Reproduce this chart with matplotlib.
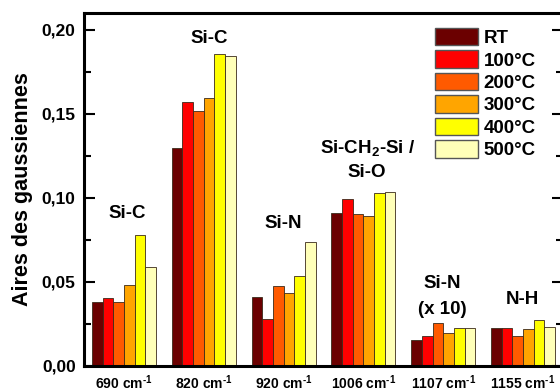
import matplotlib
matplotlib.use("Agg")
import matplotlib.pyplot as plt
import numpy as np
from matplotlib.ticker import MultipleLocator, FuncFormatter

plt.rcParams['font.family'] = 'Liberation Sans'
plt.rcParams['font.weight'] = 'bold'
plt.rcParams['axes.labelweight'] = 'bold'
plt.rcParams['mathtext.fontset'] = 'custom'
plt.rcParams['mathtext.default'] = 'bf'
plt.rcParams['mathtext.bf'] = 'Liberation Sans:bold'
plt.rcParams['mathtext.rm'] = 'Liberation Sans:bold'

# donnees
bandes = ["690", "820", "920", "1006", "1107", "1155"]
temps = ["RT", "100°C", "200°C", "300°C", "400°C", "500°C"]
couleurs = ["#6b0000", "#ff0000", "#ff5a00", "#ffa500", "#ffff00", "#ffffb8"]

RT = [0.038, 0.1296, 0.0413, 0.0913, 0.0155, 0.0224]
T100 = [0.0403, 0.1573, 0.0278, 0.0994, 0.0180, 0.0224]
T200 = [0.038, 0.1518, 0.0478, 0.0905, 0.0254, 0.0180]
T300 = [0.048, 0.1593, 0.0433, 0.0893, 0.0198, 0.0222]
T400 = [0.078, 0.1855, 0.0536, 0.1028, 0.0224, 0.0274]
T500 = [0.0587, 0.1845, 0.0740, 0.1038, 0.0224, 0.0230]
series = [RT, T100, T200, T300, T400, T500]

fig = plt.figure(figsize=(5.6, 3.9), dpi=100)
ax = fig.add_axes([84/560, 24/390, 479/560, 353/390])

x = np.arange(len(bandes))
w = 0.8/6
for i, vals in enumerate(series):
    ax.bar(x + (i - 2.5)*w, vals, w, color=couleurs[i], edgecolor='#3a2a1a',
           linewidth=0.6, label=temps[i])

ax.set_xlim(-0.5, 5.5)
ax.set_ylim(0, 0.21)
ax.yaxis.set_major_locator(MultipleLocator(0.05))
ax.yaxis.set_minor_locator(MultipleLocator(0.025))
ax.yaxis.set_major_formatter(FuncFormatter(lambda v, p: ("%.2f" % v).replace('.', ',')))
ax.tick_params(axis='y', which='both', direction='in', right=True, labelsize=12.5, pad=6, width=1.5)
ax.tick_params(axis='y', which='major', length=8)
ax.tick_params(axis='y', which='minor', length=5)
ax.set_xticks(x)
ax.set_xticklabels([b + r" cm$^{\text{-1}}$" for b in bandes], fontsize=10)
ax.tick_params(axis='x', length=0, pad=5)
for s in ax.spines.values():
    s.set_linewidth(2.2)
ax.set_ylabel("Aires des gaussiennes", fontsize=15.5, labelpad=6)

fs = 13.5
ax.text(0.04, 0.091, "Si-C", ha='center', va='center', fontsize=fs)
ax.text(1.07, 0.195, "Si-C", ha='center', va='center', fontsize=fs)
ax.text(1.99, 0.0845, "Si-N", ha='center', va='center', fontsize=fs)
ax.text(3.05, 0.1297, "Si-CH$_2$-Si /", ha='center', va='center', fontsize=fs)
ax.text(3.04, 0.1154, "Si-O", ha='center', va='center', fontsize=fs)
ax.text(3.99, 0.0488, "Si-N", ha='center', va='center', fontsize=fs)
ax.text(3.99, 0.0339, "(x 10)", ha='center', va='center', fontsize=fs)
ax.text(4.99, 0.0393, "N-H", ha='center', va='center', fontsize=fs)

leg = ax.legend(loc='upper left', bbox_to_anchor=(435/560, 1 - 28/390),
                bbox_transform=fig.transFigure, frameon=False, fontsize=13.5,
                handlelength=2.3, handleheight=1.05, labelspacing=0.18,
                handletextpad=0.3, borderpad=0, borderaxespad=0)
for p in leg.get_patches():
    p.set_edgecolor('#555555')
    p.set_linewidth(1)

fig.savefig("out.png", dpi=100)
